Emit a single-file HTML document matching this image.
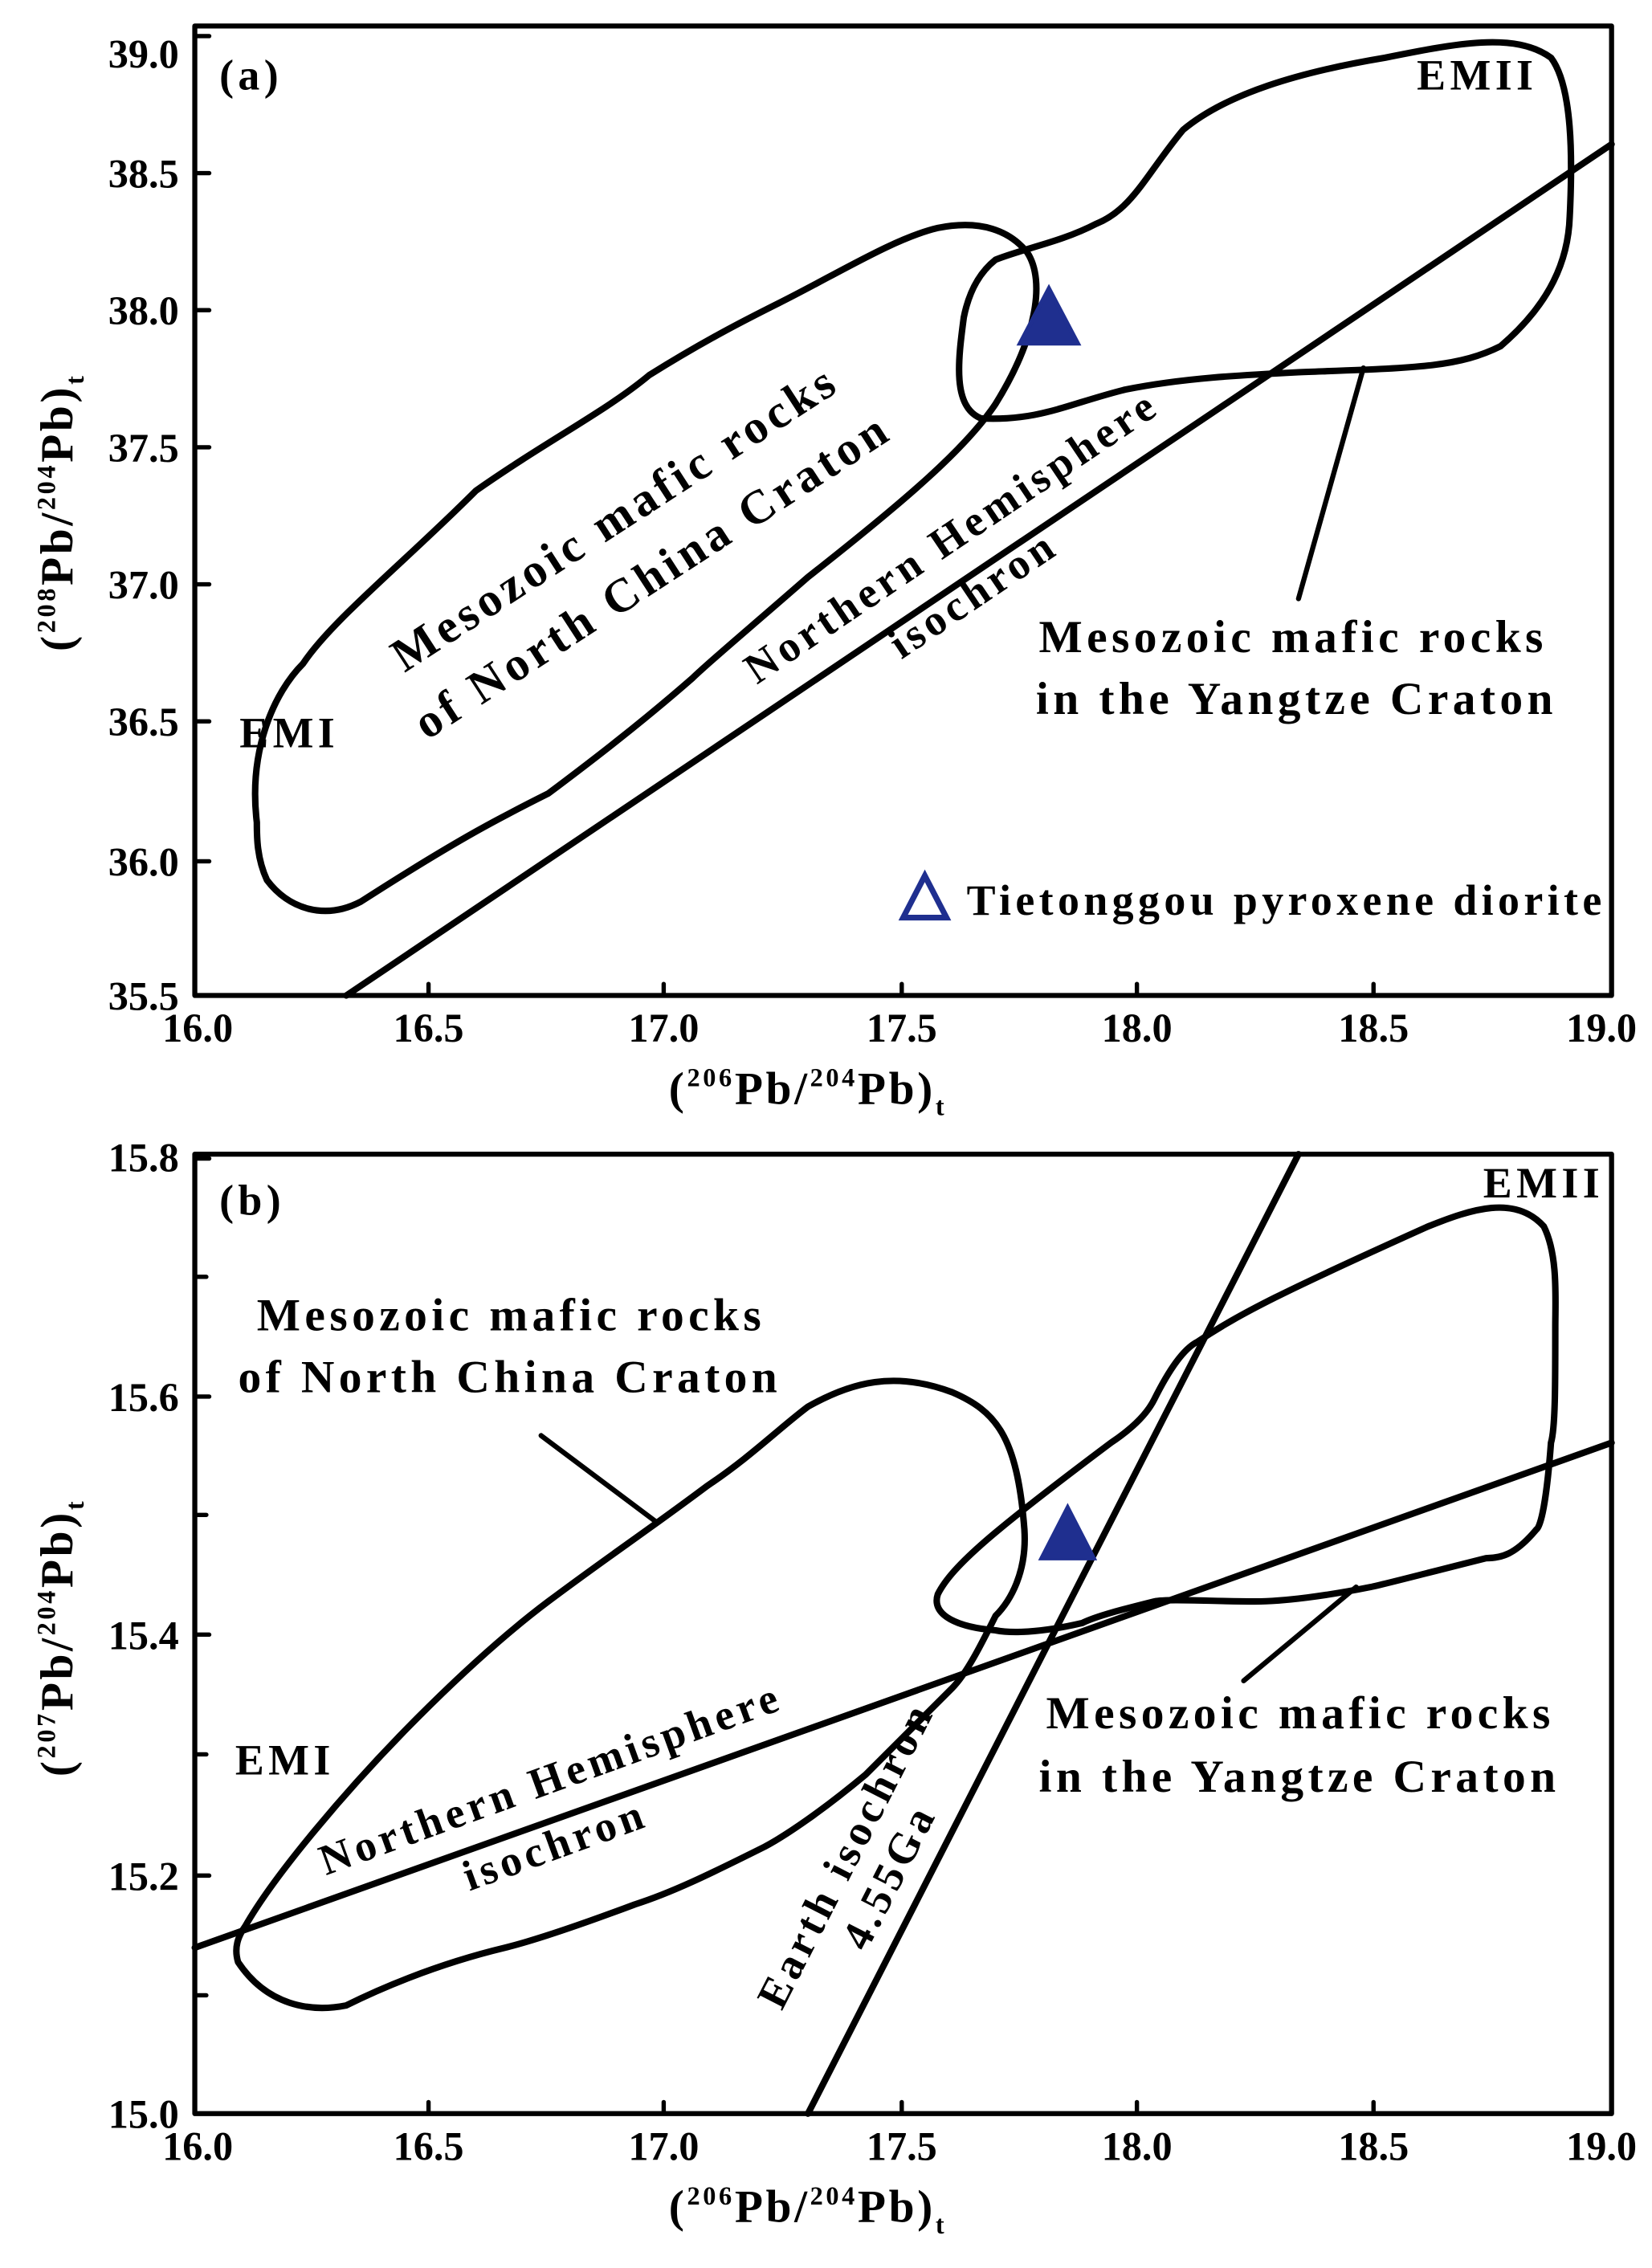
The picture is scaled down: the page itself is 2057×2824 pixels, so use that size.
<!DOCTYPE html>
<html><head><meta charset="utf-8"><style>
html,body{margin:0;padding:0;background:#fff}
svg{display:block}
text{font-family:"Liberation Serif",serif;font-weight:bold;fill:#000}
.ls text{letter-spacing:3px}
</style></head><body>
<svg width="2057" height="2824" viewBox="0 0 1145 1572" xmlns="http://www.w3.org/2000/svg">
<g fill="none" stroke="#000" stroke-width="4.5" stroke-linejoin="round" stroke-linecap="round">
<rect x="135" y="18" width="982" height="672" stroke-width="3.5"/>
<path d="M135 120h10M135 215h10M135 310h10M135 405h10M135 500h10M135 597h10M135 25h10" stroke-width="3"/>
<path d="M297 690v-8M460 690v-8M625 690v-8M788 690v-8M952 690v-8" stroke-width="3"/>
<path d="M178 570 C172 520 190 480 210 460 C230 430 280 390 330 340 C380 305 420 285 450 260 C490 235 520 220 540 210 C580 190 620 165 650 158 C680 152 700 160 712 175 C725 195 718 235 690 280 C670 310 630 345 560 400 C520 435 490 460 480 470 C440 505 400 535 380 550 C350 565 320 580 250 625 C225 638 200 630 185 610 C178 595 178 580 178 570 Z"/>
<path d="M690 180 C710 172 735 168 760 155 C785 145 795 120 820 90 C850 65 900 50 960 40 C1010 30 1050 22 1075 40 C1090 60 1090 110 1088 150 C1087 180 1075 210 1040 240 C1010 255 980 255 900 258 C860 260 820 262 780 270 C740 280 720 292 680 290 C660 282 664 250 668 220 C672 200 680 188 690 180 Z"/>
<path d="M240 690 L1117 100"/>
<path d="M900 415 L945 255" stroke-width="3.5"/>
<rect x="135" y="800" width="982" height="665" stroke-width="3.5"/>
<path d="M135 803h10M135 968h10M135 1133h10M135 1300h10M135 885h8M135 1050h8M135 1216h8M135 1383h8" stroke-width="3"/>
<path d="M297 1465v-8M460 1465v-8M625 1465v-8M788 1465v-8M952 1465v-8" stroke-width="3"/>
<path d="M170 1335 C190 1300 240 1240 290 1190 C330 1150 360 1125 380 1110 C420 1080 450 1060 490 1030 C520 1010 540 990 560 975 C590 958 620 950 660 965 C690 978 705 995 710 1060 C712 1090 700 1110 690 1120 C680 1140 670 1160 660 1170 C630 1200 610 1220 600 1230 C570 1255 545 1272 530 1280 C490 1300 465 1312 440 1320 C400 1335 370 1345 350 1350 C300 1362 260 1380 240 1390 C215 1395 185 1390 165 1360 C162 1350 165 1342 170 1335 Z"/>
<path d="M650 1105 C660 1085 690 1060 770 1000 C785 990 795 980 800 970 C810 950 820 935 830 930 C860 910 890 895 990 850 C1020 838 1050 828 1070 850 C1080 870 1078 900 1078 920 C1078 960 1078 990 1075 1000 C1072 1040 1068 1058 1065 1060 C1050 1078 1040 1080 1030 1080 C990 1090 960 1098 950 1100 C920 1106 890 1110 870 1110 C840 1110 810 1108 800 1110 C780 1115 760 1120 750 1125 C720 1132 700 1132 690 1130 C665 1128 645 1120 650 1105 Z"/>
<path d="M560 1465 L900 800"/>
<path d="M135 1350 L1117 1000"/>
<path d="M375 995 L455 1055" stroke-width="3.5"/>
<path d="M862 1165 L940 1100" stroke-width="3.5"/>
</g>
<polygon points="727,200 707,238 747,238" fill="#1f2f8f" stroke="#1f2f8f" stroke-width="3"/>
<polygon points="641,607 626,636 656,636" fill="none" stroke="#1f2f8f" stroke-width="4"/>
<polygon points="740,1045 722,1080 758,1080" fill="#1f2f8f" stroke="#1f2f8f" stroke-width="3"/>
<g font-size="28" text-anchor="end">
<text x="124" y="47">39.0</text><text x="124" y="130">38.5</text><text x="124" y="225">38.0</text><text x="124" y="320">37.5</text><text x="124" y="415">37.0</text><text x="124" y="510">36.5</text><text x="124" y="607">36.0</text><text x="124" y="700">35.5</text>
<text x="124" y="812">15.8</text><text x="124" y="978">15.6</text><text x="124" y="1143">15.4</text><text x="124" y="1310">15.2</text><text x="124" y="1475">15.0</text>
</g>
<g font-size="28" text-anchor="middle">
<text x="137" y="722">16.0</text><text x="297" y="722">16.5</text><text x="460" y="722">17.0</text><text x="625" y="722">17.5</text><text x="788" y="722">18.0</text><text x="952" y="722">18.5</text><text x="1110" y="722">19.0</text>
<text x="137" y="1497">16.0</text><text x="297" y="1497">16.5</text><text x="460" y="1497">17.0</text><text x="625" y="1497">17.5</text><text x="788" y="1497">18.0</text><text x="952" y="1497">18.5</text><text x="1110" y="1497">19.0</text>
</g>
<text x="560" y="765" font-size="32" text-anchor="middle" letter-spacing="2">(<tspan font-size="18" dy="-12">206</tspan><tspan dy="12">Pb/</tspan><tspan font-size="18" dy="-12">204</tspan><tspan dy="12">Pb)</tspan><tspan font-size="18" dy="8">t</tspan></text>
<text x="560" y="1540" font-size="32" text-anchor="middle" letter-spacing="2">(<tspan font-size="18" dy="-12">206</tspan><tspan dy="12">Pb/</tspan><tspan font-size="18" dy="-12">204</tspan><tspan dy="12">Pb)</tspan><tspan font-size="18" dy="8">t</tspan></text>
<text transform="translate(50,355) rotate(-90)" font-size="32" text-anchor="middle" letter-spacing="2">(<tspan font-size="18" dy="-12">208</tspan><tspan dy="12">Pb/</tspan><tspan font-size="18" dy="-12">204</tspan><tspan dy="12">Pb)</tspan><tspan font-size="18" dy="8">t</tspan></text>
<text transform="translate(50,1135) rotate(-90)" font-size="32" text-anchor="middle" letter-spacing="2">(<tspan font-size="18" dy="-12">207</tspan><tspan dy="12">Pb/</tspan><tspan font-size="18" dy="-12">204</tspan><tspan dy="12">Pb)</tspan><tspan font-size="18" dy="8">t</tspan></text>
<g font-size="30" class="ls">
<text x="152" y="62">(a)</text>
<text x="982" y="62">EMII</text>
<text x="166" y="518">EMI</text>
<text transform="translate(432,368) rotate(-33)" text-anchor="middle" font-size="33">Mesozoic mafic rocks</text>
<text transform="translate(458,408) rotate(-33)" text-anchor="middle" font-size="33">of North China Craton</text>
<text transform="translate(665,380) rotate(-34)" text-anchor="middle">Northern Hemisphere</text>
<text transform="translate(680,420) rotate(-34)" text-anchor="middle">isochron</text>
<text x="720" y="452" font-size="32">Mesozoic mafic rocks</text>
<text x="718" y="495" font-size="32">in the Yangtze Craton</text>
<text x="670" y="634" font-size="30" letter-spacing="2.5">Tietonggou pyroxene diorite</text>
<text x="152" y="842">(b)</text>
<text x="1028" y="830">EMII</text>
<text x="163" y="1230">EMI</text>
<text x="178" y="922" font-size="32">Mesozoic mafic rocks</text>
<text x="165" y="965" font-size="32">of North China Craton</text>
<text transform="translate(385,1242) rotate(-20)" text-anchor="middle">Northern Hemisphere</text>
<text transform="translate(388,1288) rotate(-20)" text-anchor="middle">isochron</text>
<text transform="translate(595,1290) rotate(-63)" text-anchor="middle">Earth isochron</text>
<text transform="translate(625,1305) rotate(-63)" text-anchor="middle">4.55Ga</text>
<text x="725" y="1198" font-size="32">Mesozoic mafic rocks</text>
<text x="720" y="1242" font-size="32">in the Yangtze Craton</text>
</g>
</svg>
</body></html>
